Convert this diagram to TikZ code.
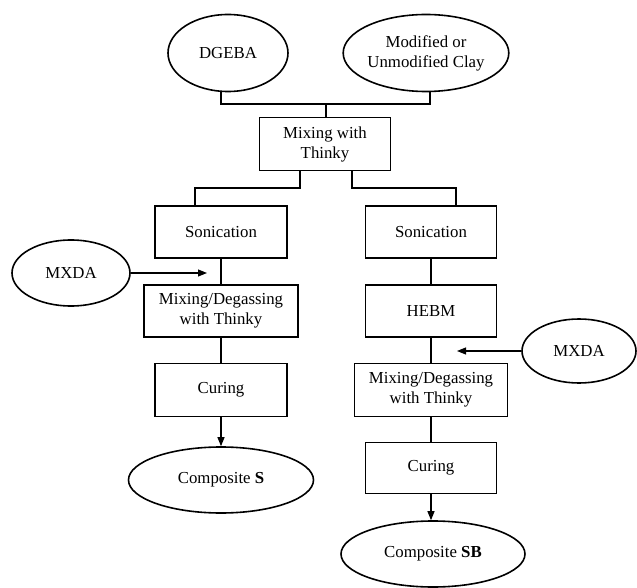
\documentclass[tikz,border=0pt]{standalone}
\usepackage{fontspec}
\setmainfont{Liberation Serif}
\usetikzlibrary{shapes.geometric,arrows.meta}
\begin{document}
\begin{tikzpicture}[x=1pt,y=-1pt,line width=1.5pt,
  txt/.style={align=center,font=\fontsize{16.8}{20}\selectfont},
  box/.style={txt,draw,rectangle,inner sep=0pt},
  oval/.style={txt,draw,ellipse,inner sep=0pt,line width=1.6pt},
  arr/.style={-{Triangle[length=9pt,width=7pt]},line width=1.1pt}]
\useasboundingbox (0,0) rectangle (637,588);
% top inputs
\node[oval,minimum width=120pt,minimum height=77pt] (dgeba) at (228,53) {DGEBA};
\node[oval,minimum width=124pt,minimum height=77pt] (clay) at (426,53) {Modified or\\Unmodified Clay};
\node[box,minimum width=131pt,minimum height=53pt] (mix1) at (325,144) {Mixing with\\Thinky};
% left branch
\node[box,minimum width=132pt,minimum height=52pt] (sonL) at (221,232) {Sonication};
\node[box,minimum width=154pt,minimum height=52pt] (mixL) at (221,311) {Mixing/Degassing\\with Thinky};
\node[box,minimum width=132pt,minimum height=53pt] (curL) at (221,390) {Curing};
\node[oval,minimum width=185pt,minimum height=66pt] (compS) at (221,480) {Composite \textbf{S}};
\node[oval,minimum width=118pt,minimum height=66pt] (mxdaL) at (71,273) {MXDA};
% right branch
\node[box,minimum width=131pt,minimum height=52pt] (sonR) at (431,232) {Sonication};
\node[box,minimum width=131pt,minimum height=52pt] (hebm) at (431,311) {HEBM};
\node[box,minimum width=153pt,minimum height=53pt] (mixR) at (431,390) {Mixing/Degassing\\with Thinky};
\node[box,minimum width=131pt,minimum height=51pt] (curR) at (431,468) {Curing};
\node[oval,minimum width=184pt,minimum height=66pt] (compSB) at (433,554) {Composite \textbf{SB}};
\node[oval,minimum width=114pt,minimum height=64pt] (mxdaR) at (579,351) {MXDA};
% joining the inputs
\coordinate (j) at (326,104);
\draw (dgeba.260) -- (dgeba.260 |- j) -- (clay.276 |- j) -- (clay.276);
\draw (j) -- (j |- mix1.north);
% split
\coordinate (ml) at (300,188);
\coordinate (mr) at (352,188);
\draw ([xshift=-25pt]mix1.south) -- (ml) -| ([xshift=-26pt]sonL.north);
\draw ([xshift=27pt]mix1.south) -- (mr) -| ([xshift=25pt]sonR.north);
% left chain
\draw (sonL) -- (mixL);
\draw (mixL) -- (curL);
\draw[arr] (curL) -- (compS);
\coordinate (tipL) at (207,273);
\draw[arr] (mxdaL.east) -- (tipL);
% right chain
\draw (sonR) -- (hebm);
\draw (hebm) -- (mixR);
\draw (mixR) -- (curR);
\draw[arr] (curR.south) -- (curR.south |- compSB.north);
\coordinate (tipR) at (457,351);
\draw[arr] (mxdaR.west) -- (tipR);
\end{tikzpicture}
\end{document}
